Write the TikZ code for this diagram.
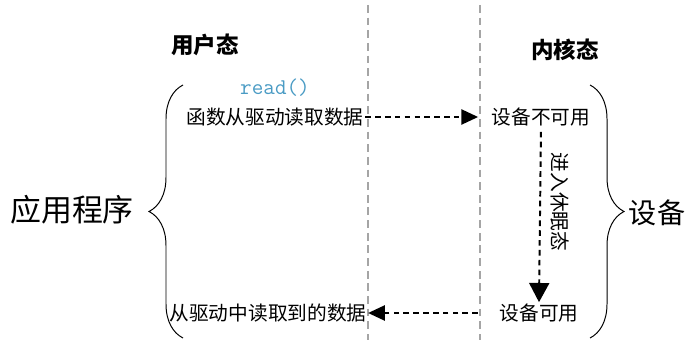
\documentclass[tikz,border=0pt]{standalone}
\usepackage{fontspec}
\newfontfamily\cjk{Noto Sans CJK SC}
\usetikzlibrary{arrows.meta,positioning,decorations.pathreplacing}
\definecolor{steel}{RGB}{74,155,196}
\definecolor{divider}{RGB}{165,165,165}
\tikzset{
  >={Triangle[length=4.2mm,width=3.8mm]},
  txt/.style={font=\cjk\fontsize{#1}{#1}\selectfont,inner sep=1pt},
  txt/.default=14,
  head/.style={font=\cjk\bfseries\fontsize{16}{16}\selectfont,inner sep=1pt},
  flow/.style={->,line width=1.4pt,dash pattern=on 4pt off 3pt},
  split/.style={draw=divider,line width=1.1pt,dash pattern=on 5.5pt off 3.5pt},
  curly/.style={decorate,decoration={brace,amplitude=#1},line width=0.7pt},
}

\begin{document}
\begin{tikzpicture}[x=0.025cm,y=-0.025cm]
        \useasboundingbox (0,0) rectangle (690,360);
        % user / kernel divide
        \draw[split] (368,5) -- (368,340);
        \draw[split] (480,5) -- (480,340);
        \node[head] (user) at (205,45) {用户态};
        \node[head] (kernel) at (565,50) {内核态};
        % user side
        \node[font=\ttfamily\fontsize{16}{16}\selectfont,text=steel,inner sep=1pt] (read) at (275,88) {read()};
        \node[txt] (fetch) at (275,117) {函数从驱动读取数据};
        \node[txt] (result) at (268,313) {从驱动中读取到的数据};
        % kernel side
        \node[txt] (unavail) at (541,117) {设备不可用};
        \node[txt] (avail) at (539,313) {设备可用};
        \draw[flow,shorten >=0.3cm] (fetch.east) -- (unavail.west);
        \draw[flow,shorten <=0.5cm] (avail.west) -- (result.east);
        \draw[flow,-{Triangle[length=4.8mm,width=5mm]},shorten <=0.1cm] (unavail.south) -- (avail.north);
        \node[txt,rotate=-90] (sleep) at (560,202) {进入休眠态};
        % braces
        \draw[curly=0.85cm] (183,338) -- (183,85);
        \draw[curly=0.85cm] (590,85) -- (590,338);
        \node[txt=22] (app) at (72,210) {应用程序};
        \node[txt=20] (dev) at (657,213) {设备};
      \end{tikzpicture}
\end{document}
